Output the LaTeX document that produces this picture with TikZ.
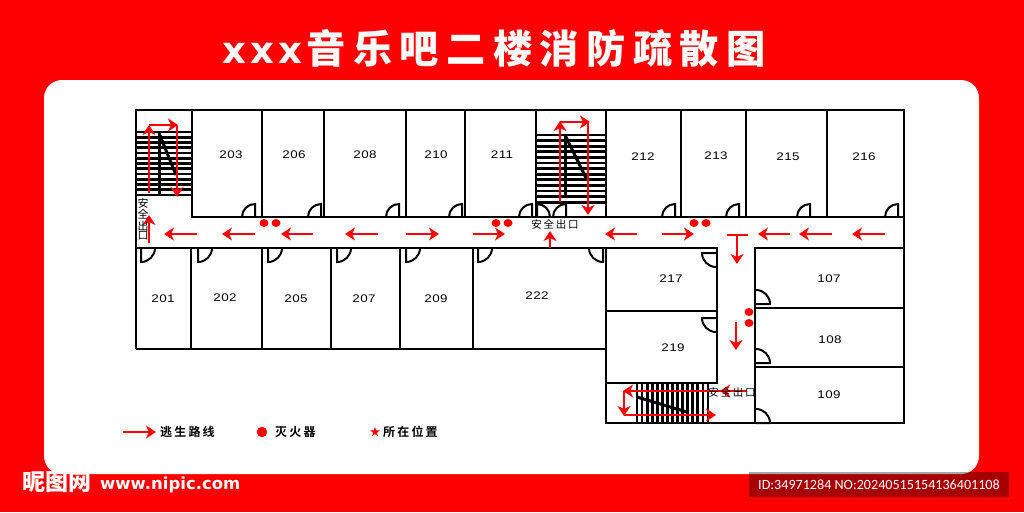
\documentclass[tikz,border=0pt]{standalone}
\usepackage{fontspec}
\usetikzlibrary{arrows.meta,shapes.geometric}
\setmainfont{DejaVu Sans}
\newfontfamily\cjk{Noto Sans CJK SC}
\newfontfamily\cjktitle[LetterSpace=19]{Noto Sans CJK SC Black}
\newfontfamily\cjklbl[LetterSpace=16]{Noto Sans CJK SC}
\newfontfamily\cjkleg[LetterSpace=18]{Noto Sans CJK SC Bold}
\newfontfamily\xfont[LetterSpace=12]{DejaVu Sans Bold}
\newfontfamily\idfont{Carlito}
\newfontfamily\roomfont[FakeStretch=1.22,LetterSpace=4]{Liberation Sans}
\definecolor{fire}{RGB}{255,0,0}
\tikzset{
  wall/.style={line width=2.4pt,draw=black},
  treadline/.style={line width=2.8pt,draw=black},
  stringer/.style={line width=3pt,draw=black},
  doorline/.style={line width=2pt,draw=black},
  route/.style={line width=2.2pt,draw=fire,-{Stealth[length=10pt,width=13pt,inset=3pt]}},
  routeplain/.style={line width=2.2pt,draw=fire},
  ext/.style={fill=fire,draw=none,ellipse,minimum width=9pt,minimum height=8pt,inner sep=0pt},
  room/.style={font=\roomfont\fontsize{11}{12}\selectfont,inner sep=0pt,text=black},
  exitlbl/.style={font=\cjklbl\fontsize{10.5}{11}\selectfont,inner sep=0pt,text=black},
  leg/.style={font=\cjkleg\fontsize{12}{13}\selectfont,inner sep=0pt,text=black,anchor=west},
}
\begin{document}
\begin{tikzpicture}[x=1pt,y=-1pt]
\useasboundingbox (0,0) rectangle (1024,512);
\fill[fire] (0,0) rectangle (1024,512);
\fill[white,rounded corners=18pt] (44,80) rectangle (979,474);
% outer & corridor walls
\draw[wall] (136,349) -- (136,110) -- (904,110) -- (904,423) -- (606,423) -- (606,248);
\draw[wall] (192,110) -- (192,217) -- (904,217);
\draw[wall] (136,248) -- (717,248) -- (717,383) -- (606,383);
\draw[wall] (755,423) -- (755,248) -- (904,248);
\draw[wall] (136,349) -- (606,349);
\draw[wall] (606,311) -- (717,311);
\draw[wall] (755,308) -- (904,308);
\draw[wall] (755,367) -- (904,367);
\foreach \x in {262,324,406,465,536,606,681,746,827}{\draw[wall] (\x,110) -- (\x,217);}
\foreach \x in {191,262,331,400,473}{\draw[wall] (\x,248) -- (\x,349);}
% stair 1
\foreach \i in {0,...,12}{\draw[treadline] (136,{132+\i*5.25}) -- (192,{132+\i*5.25});}
\draw[stringer] (159,133) -- (159,195);
\draw[stringer] (159,133) -- (176,175);
% stair 2
\foreach \i in {0,...,12}{\draw[treadline] (536,{135+\i*5.6}) -- (606,{135+\i*5.6});}
\draw[stringer] (565,135) -- (565,197);
\draw[stringer] (565,135) -- (587,180);
% stair 3
\foreach \i in {0,...,14}{\draw[treadline] ({637+\i*5.07},383) -- ({637+\i*5.07},423);}
\draw[stringer] (637,397) -- (687,412);
% top-row doors
\foreach \x in {255,321,399,462,532,675,739,810,898}{
  \draw[doorline] (\x,217) -- (\x,204) arc[start angle=90,end angle=180,radius=13pt];
}
\draw[doorline] (537,217) -- (537,204) arc[start angle=90,end angle=0,radius=13pt];
\draw[doorline] (566,217) -- (566,204) arc[start angle=90,end angle=180,radius=13pt];
% bottom-row doors
\foreach \x in {141,198,268,337,406,478}{
  \draw[doorline] (\x,248) -- (\x,262) arc[start angle=-90,end angle=0,radius=14pt];
}
\draw[doorline] (603,248) -- (603,262) arc[start angle=-90,end angle=-180,radius=14pt];
% side doors
\foreach \y in {253,318}{
  \draw[doorline] (717,\y) -- (702,\y) arc[start angle=180,end angle=270,radius=14pt];
}
\foreach \y in {304,363,423}{
  \draw[doorline] (756,\y) -- (770,\y) arc[start angle=0,end angle=90,radius=14pt];
}
% room labels
\foreach \n/\x/\y in {203/231/155,206/294/155,208/365/155,210/436/155,211/502/155,212/643/157,213/716/156,215/788/157,216/864/157,201/163/299,202/225/298,205/296/299,207/364/299,209/436/299,222/537/296,217/671/279,219/673/348,107/829/279,108/830/340,109/829/395}{
  \node[room] (r\n) at (\x,\y) {\n};
}
% stair routes
\draw[route] (149,193) -- (149,125);
\draw[route] (149,125) -- (178,125);
\draw[route] (177,125) -- (177,197);
\draw[route] (560,202) -- (560,121);
\draw[route] (560,122) -- (590,122);
\draw[route] (588,122) -- (588,215);
\draw[route] (747,391) -- (623,391);
\draw[route] (738,391) -- (720,391);
\draw[route] (624,391) -- (624,416);
\draw[route] (624,415) -- (716,415);
% corridor routes
\draw[route] (149,243) -- (149,215);
\foreach \a/\b in {197/164,255/222,313/281,378/345,406/439,473/505,637/605,662/694,790/758,832/799,885/852}{
  \draw[route] (\a,234) -- (\b,234);
}
\draw[route] (550,248) -- (550,231);
\draw[routeplain] (727,235) -- (748,235);
\draw[route] (737,235) -- (737,264);
\draw[route] (736,322) -- (736,350);
% extinguishers
\foreach \n/\x/\y in {a/264/223,b/276/223,c/496/223,d/508/223,e/694/223,f/706/223,g/749/312,h/749/323}{
  \node[ext] (e\n) at (\x,\y) {};
}
% exit labels
\node[exitlbl] (x1) at (555,224) {安全出口};
\node[exitlbl] (x2) at (732,392) {安全出口};
\node[exitlbl,font=\cjk\fontsize{11}{12}\selectfont] (x3a) at (143,203) {安};
\node[exitlbl,font=\cjk\fontsize{11}{12}\selectfont] (x3b) at (143,214.5) {全};
\node[exitlbl,font=\cjk\fontsize{11}{12}\selectfont] (x3c) at (143,226) {出};
\node[exitlbl,font=\cjk\fontsize{11}{12}\selectfont] (x3d) at (143,236) {口};
% legend
\coordinate (l0) at (123,432);
\coordinate (l1) at (156,432);
\draw[route,line width=1.6pt] (l0) -- (l1);
\node[leg] (lt1) at (160,432) {逃生路线};
\node[fill=fire,circle,minimum size=10.5pt,inner sep=0pt] (lc) at (262,432) {};
\node[leg] (lt2) at (275,432) {灭火器};
\node[fill=fire,star,star points=5,star point ratio=2.4,minimum size=10pt,inner sep=0pt] (ls) at (375,432) {};
\node[leg] (lt3) at (383,432) {所在位置};
% title
\node[text=white,anchor=west,inner sep=0pt] (ttl) at (222,48) {{\xfont\fontsize{37}{40}\selectfont xxx}\hspace{4pt}{\cjktitle\fontsize{39.2}{40}\selectfont 音乐吧二楼消防疏散图}};
% watermark
\node[text=white,anchor=west,inner sep=0pt,font=\cjk\bfseries\fontsize{23}{24}\selectfont] (wm1) at (22,482) {昵图网};
\node[text=white,anchor=west,inner sep=0pt,font=\bfseries\fontsize{16.5}{18}\selectfont] (wm2) at (100,485) {www.nipic.com};
\fill[black,opacity=.35] (749,472) rectangle (1009,497);
\node[text=white,anchor=west,inner sep=0pt,font=\idfont\fontsize{14.1}{16}\selectfont] (wm3) at (758,485) {ID:34971284 NO:20240515154136401108};
\end{tikzpicture}
\end{document}
